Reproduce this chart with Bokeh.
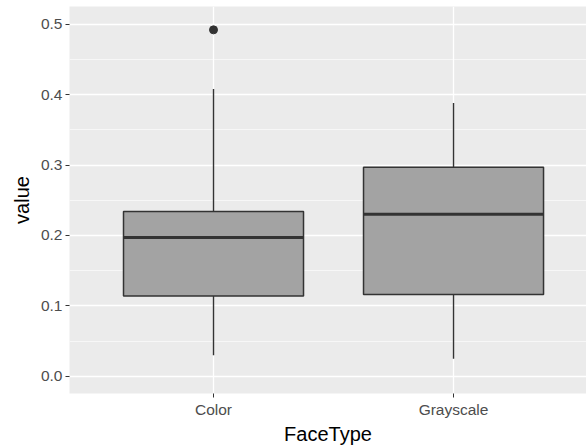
from bokeh.plotting import figure
from bokeh.models import Range1d, FixedTicker, SingleIntervalTicker, CustomJSTickFormatter
from bokeh.embed import file_html
from bokeh.resources import INLINE

categories = ["Color", "Grayscale"]
lower_whisker = [0.030, 0.025]
q1 = [0.114, 0.116]
median = [0.197, 0.230]
q3 = [0.234, 0.297]
upper_whisker = [0.408, 0.388]
outlier_cat = ["Color"]
outlier_val = [0.492]

xs = [i + 1 for i in range(len(categories))]
out_x = [categories.index(c) + 1 for c in outlier_cat]
box_w = 0.75

p = figure(width=586, height=448, output_backend="svg", toolbar_location=None,
           x_range=Range1d(0.4, 2.554), y_range=Range1d(-0.0245, 0.5252),
           min_border_left=69, min_border_right=0, min_border_top=6, min_border_bottom=55)

p.background_fill_color = "#EBEBEB"
p.border_fill_color = "white"
p.outline_line_color = None

# grids
p.xgrid.ticker = FixedTicker(ticks=xs)
p.xgrid.grid_line_color = "white"
p.xgrid.grid_line_width = 1.3
p.yaxis.ticker = SingleIntervalTicker(interval=0.1, num_minor_ticks=2)
p.ygrid.grid_line_color = "white"
p.ygrid.grid_line_width = 1.3
p.ygrid.minor_grid_line_color = "white"
p.ygrid.minor_grid_line_width = 0.6

# axes
p.xaxis.ticker = FixedTicker(ticks=xs)
p.xaxis.major_label_overrides = {x: c for x, c in zip(xs, categories)}
for ax in (p.xaxis, p.yaxis):
    ax.axis_line_color = None
    ax.major_tick_line_color = "#333333"
    ax.major_tick_out = 4
    ax.major_tick_in = 0
    ax.minor_tick_line_color = None
    ax.major_label_text_color = "#4D4D4D"
    ax.major_label_text_font = "Liberation Sans"
    ax.major_label_text_font_size = "15.5px"
    ax.major_label_standoff = 3
    ax.axis_label_text_font = "Liberation Sans"
    ax.axis_label_text_font_size = "20px"
    ax.axis_label_text_font_style = "normal"
    ax.axis_label_text_color = "black"
p.xaxis.axis_label = "FaceType"
p.yaxis.axis_label = "value"
p.yaxis.axis_label_standoff = 5
p.xaxis.axis_label_standoff = 2
p.yaxis.formatter = CustomJSTickFormatter(code="return tick.toFixed(1);")

# whiskers
p.segment(x0=xs, y0=q3, x1=xs, y1=upper_whisker, line_color="#333333", line_width=1.4)
p.segment(x0=xs, y0=q1, x1=xs, y1=lower_whisker, line_color="#333333", line_width=1.4)
# boxes
p.vbar(x=xs, width=box_w, bottom=q1, top=q3, fill_color="#A3A3A3",
       line_color="#333333", line_width=1.5)
# medians
p.segment(x0=[x - box_w / 2 for x in xs], y0=median, x1=[x + box_w / 2 for x in xs],
          y1=median, line_color="#333333", line_width=3)
# outliers
p.scatter(x=out_x, y=outlier_val, size=8, color="#333333")

open("out.html", "w").write(file_html(p, INLINE))
